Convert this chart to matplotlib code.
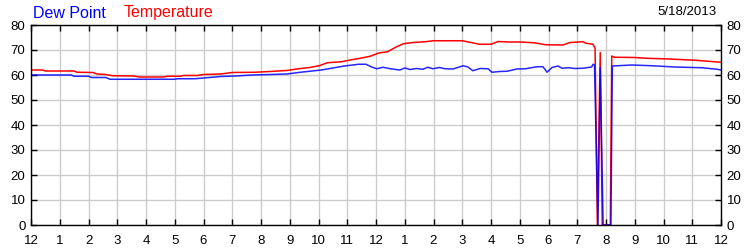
import matplotlib
matplotlib.use('Agg')
import matplotlib.pyplot as plt

# ore dalla mezzanotte e valori
temp_h = [0, 0.4, 0.5, 1.5, 1.6, 2.15, 2.3, 2.6, 2.85, 3.6, 3.75, 4.6, 4.75, 5.2, 5.3, 5.8,
          6.0, 6.6, 7.0, 7.8, 8.3, 8.9, 9.3, 9.7, 10.05, 10.3, 10.8, 11.2, 11.5, 11.8, 12.1,
          12.4, 12.7, 12.95, 13.3, 13.7, 14.0, 15.0, 15.3, 15.6, 16.0, 16.25, 16.6, 17.0,
          17.5, 17.9, 18.5, 18.75, 19.2, 19.3, 19.55, 19.62, 19.7, 19.8, 19.87, 20.15, 20.2,
          20.3, 21.0, 21.4, 22.2, 23.1, 24.0]
temp = [62, 62, 61.6, 61.6, 61.1, 61, 60.4, 60.2, 59.7, 59.6, 59.2, 59.2, 59.5, 59.5, 59.8, 59.8,
        60.2, 60.4, 61, 61.1, 61.4, 61.8, 62.5, 63, 63.8, 64.9, 65.3, 66.2, 66.8, 67.5, 68.8,
        69.3, 71.2, 72.5, 73, 73.3, 73.7, 73.7, 73, 72.3, 72.3, 73.4, 73.2, 73.2,
        72.9, 72.1, 72, 73, 73.3, 72.7, 72.3, 70.7, 0, 69, 0, 0, 67.6,
        67.1, 67, 66.7, 66.4, 65.9, 65.1]

dew_h = [0, 1.4, 1.5, 2.0, 2.1, 2.6, 2.75, 5.0, 5.1, 5.7, 6.0, 6.6, 7.1, 7.7, 8.3, 8.9, 9.3,
         9.7, 10.1, 10.5, 10.9, 11.4, 11.65, 11.85, 12.03, 12.24, 12.5, 12.83, 13.0, 13.2,
         13.4, 13.63, 13.8, 13.98, 14.2, 14.4, 14.68, 15.03, 15.2, 15.37, 15.62, 15.9, 16.03,
         16.3, 16.56, 16.9, 17.2, 17.6, 17.81, 17.95, 18.12, 18.33, 18.47, 18.7, 18.92, 19.2,
         19.5, 19.55, 19.6, 19.72, 19.8, 19.9, 20.17, 20.22, 20.9, 21.6, 22.4, 23.34, 23.86, 24.0]
dew = [60, 60, 59.5, 59.5, 59, 59, 58.3, 58.3, 58.5, 58.5, 58.8, 59.4, 59.6, 60, 60.2, 60.4, 61,
       61.5, 62, 62.8, 63.6, 64.3, 64.3, 63.2, 62.5, 63.1, 62.5, 62, 62.8, 62.2,
       62.6, 62.3, 63.1, 62.5, 63.0, 62.5, 62.4, 63.7, 63.2, 61.7, 62.6, 62.5, 61.1,
       61.4, 61.5, 62.4, 62.5, 63.3, 63.3, 61.1, 63, 63.6, 62.7, 62.9, 62.6, 62.7,
       63.2, 64.3, 64, 0, 63, 0, 0, 63.6, 64, 63.7, 63.2, 62.9, 62.3, 62]

xticks = list(range(0, 25))
xlabels = ['12', '1', '2', '3', '4', '5', '6', '7', '8', '9', '10', '11',
           '12', '1', '2', '3', '4', '5', '6', '7', '8', '9', '10', '11', '12']
yticks = [0, 10, 20, 30, 40, 50, 60, 70, 80]
date_label = "5/18/2013"

plt.rcParams['font.family'] = ['Liberation Sans', 'DejaVu Sans']

fig = plt.figure(figsize=(7.5, 2.5), dpi=100)
ax = fig.add_axes([31/750, 0.1, 690/750, 0.8])

ax.plot(temp_h, temp, color='#ff0000', linewidth=1.1)
ax.plot(dew_h, dew, color='#0000ff', linewidth=1.1, alpha=0.85)

ax.set_xlim(0, 24)
ax.set_ylim(0, 80)
ax.set_xticks(xticks)
ax.set_xticklabels(xlabels)
ax.set_yticks(yticks)
ax.grid(True, color='#cccccc', linewidth=1)
ax.set_axisbelow(True)
ax.tick_params(direction='in', length=4, width=1, labelsize=9.5,
               top=True, right=True, labelright=True)
ax.tick_params(axis='x', pad=7)
ax.tick_params(axis='y', pad=4)
for s in ax.spines.values():
    s.set_linewidth(1)
    s.set_color('black')

fig.text(33/750, 1 - 13/250, "Dew Point", color='#0000ff', fontsize=11.5, va='center', ha='left')
fig.text(124/750, 1 - 13/250, "Temperature", color='#ff0000', fontsize=11.5, va='center', ha='left')
fig.text(717/750, 1 - 12/250, date_label, color='black', fontsize=9.5, va='center', ha='right')

fig.savefig('out.png', dpi=100)
